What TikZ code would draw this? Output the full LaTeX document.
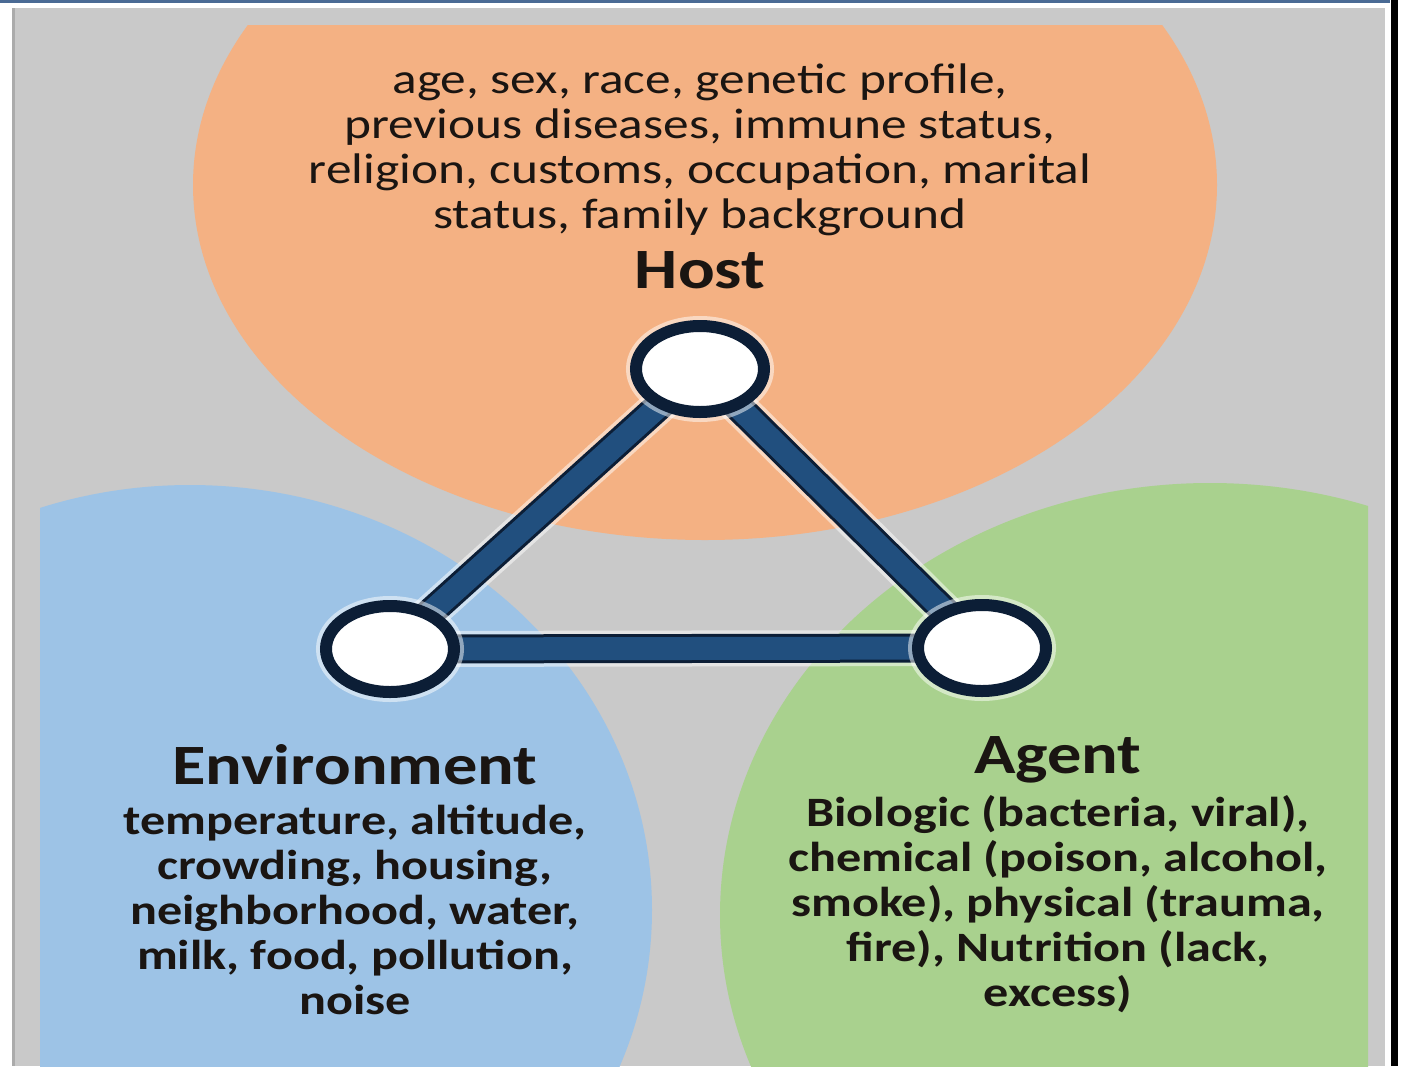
\documentclass[tikz,border=0pt]{standalone}
\usepackage{tikz}
\usepackage{fontspec}
\setmainfont{Carlito}[FakeStretch=1.2]
\usetikzlibrary{shapes.geometric}

\pgfdeclarelayer{regions}
\pgfdeclarelayer{links}
\pgfsetlayers{regions,links,main}

\definecolor{hostorange}{HTML}{F4B183}
\definecolor{envblue}{HTML}{9DC3E6}
\definecolor{agentgreen}{HTML}{A9D18E}
\definecolor{panelgray}{HTML}{C9C9C9}
\definecolor{rimblue}{HTML}{4A6A94}
\definecolor{linkblue}{HTML}{214F7E}
\definecolor{ringnavy}{HTML}{0C1E36}
\definecolor{inkdark}{HTML}{1A1512}

\tikzset{
  vertex/.style={ellipse, draw=ringnavy, line width=6pt, fill=white,
    minimum width=64pt, minimum height=43pt, inner sep=0pt,
    preaction={draw=white, opacity=.5, line width=10pt}},
  halo/.style={draw=white, opacity=.5, line width=18pt},
  link/.style={draw=ringnavy, line width=1.5pt, double=linkblue, double distance=11.5pt},
  heading/.style={font=\fontsize{28.5}{32}\selectfont\bfseries, text=inkdark},
  hostfacts/.style={align=center, font=\fontsize{21.4}{22.5}\selectfont, text=inkdark},
  bodyfacts/.style={align=center, font=\fontsize{20.9}{22.5}\selectfont\bfseries, text=inkdark},
}

\begin{document}
\begin{tikzpicture}[x=0.5pt, y=-0.5pt]
    \useasboundingbox (0,0) rectangle (1403,1066);

    % panel and the three regions
    \begin{pgfonlayer}{regions}
        \fill[white] (0,0) rectangle (1403,1066);
        \fill[rimblue] (0,0) rectangle (1390,3);
        \fill[panelgray] (12,8) rectangle (1385,1066);
        \fill[panelgray!85!black] (12,8) rectangle (15,1066);
        \fill[black] (1391,0) rectangle (1398,1066);
        \begin{scope}
            \clip (40,25) rectangle (1368,1066);
            \fill[hostorange] (705,185) ellipse [x radius=512, y radius=355];
            \fill[envblue] (190,910) ellipse [x radius=462, y radius=425];
            \fill[agentgreen] (1210,915) ellipse [x radius=490, y radius=432];
        \end{scope}
    \end{pgfonlayer}

    \node[hostfacts] (hostlist) at (700,150) {age, sex, race, genetic profile,\\
        previous diseases, immune status,\\
        religion, customs, occupation, marital\\
        status, family background};
    \node[heading] (hostname) at (700,270) {Host};

    \node[vertex] (host) at (700,369) {};
    \node[vertex] (env) at (390,649) {};
    \node[vertex] (agent) at (982,648) {};

    \begin{pgfonlayer}{links}
        \foreach \a/\b in {host/env, env/agent, agent/host}{
            \draw[halo] (\a.center) -- (\b.center);
            \draw[link] (\a.center) -- (\b.center);
        }
    \end{pgfonlayer}

    \node[heading] (envname) at (355,765) {Environment};
    \node[bodyfacts] (envlist) at (355,910) {temperature, altitude,\\
        crowding, housing,\\
        neighborhood, water,\\
        milk, food, pollution,\\
        noise};

    \node[heading] (agentname) at (1058,760) {Agent};
    \node[bodyfacts] (agentlist) at (1058,904) {Biologic (bacteria, viral),\\
        chemical (poison, alcohol,\\
        smoke), physical (trauma,\\
        fire), Nutrition (lack,\\
        excess)};

\end{tikzpicture}
\end{document}
